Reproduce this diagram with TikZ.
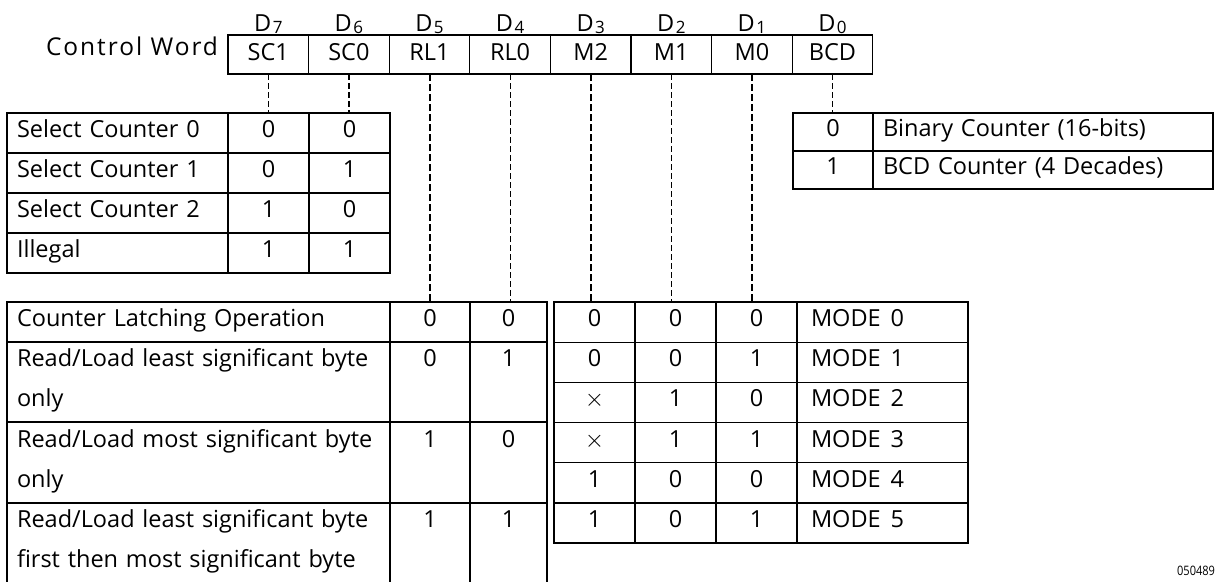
\documentclass[tikz,border=0pt]{standalone}
\usepackage{fontspec}
\usepackage{graphicx}
\setmainfont{Open Sans}
\newfontfamily\cwfont[LetterSpace=8]{Open Sans}
\begin{document}
\begin{tikzpicture}[x=1pt,y=-1pt,
  every node/.style={font=\fontsize{23.5}{40}\selectfont, inner sep=0pt, outer sep=0pt},
  grid/.style={draw, line width=1.3pt, minimum height=40pt},
  cw/.style={draw, line width=1.3pt, minimum width=80.6pt, minimum height=39pt, text height=16pt, text depth=5pt},
  txtone/.style={text height=16pt, text depth=7pt},
  txttwo/.style={text height=16pt, text depth=47pt},
  lcell/.style={align=left, inner xsep=10pt},
  rule/.style={line width=1.3pt},
  dhv/.style={line width=2pt, dash pattern=on 7pt off 3pt},
  dlt/.style={line width=1.2pt, dash pattern=on 6pt off 3pt},
  dlabel/.style={anchor=base}]
\useasboundingbox (0,0) rectangle (1217,581);

% Control word
\node[anchor=base east, font=\fontsize{24.5}{40}\cwfont] (cwl) at (218,55) {Control Word};
\node[cw] (cw1) at (268.3,54.5) {SC1};
\node[cw] (cw2) at (348.9,54.5) {SC0};
\node[cw] (cw3) at (429.5,54.5) {RL1};
\node[cw] (cw4) at (510.1,54.5) {RL0};
\node[cw] (cw5) at (590.7,54.5) {M2};
\node[cw] (cw6) at (671.3,54.5) {M1};
\node[cw] (cw7) at (751.9,54.5) {M0};
\node[cw] (cw8) at (832.5,54.5) {BCD};
\newcommand{\dsub}[1]{D\hspace{1.5pt}\raisebox{-2.5pt}{\fontsize{17}{17}\selectfont #1}}
\node[dlabel] (d7) at (268.3,31) {\dsub{7}};
\node[dlabel] (d6) at (348.9,31) {\dsub{6}};
\node[dlabel] (d5) at (429.5,31) {\dsub{5}};
\node[dlabel] (d4) at (510.1,31) {\dsub{4}};
\node[dlabel] (d3) at (590.7,31) {\dsub{3}};
\node[dlabel] (d2) at (671.3,31) {\dsub{2}};
\node[dlabel] (d1) at (751.9,31) {\dsub{1}};
\node[dlabel] (d0) at (832.5,31) {\dsub{0}};

% Select counter table
\node[grid, lcell, txtone, text width=201pt, minimum width=221pt] (s0) at (117.5,133) {Select Counter 0};
\node[grid, txtone, minimum width=81pt] (s0a) at (268.5,133) {0};
\node[grid, txtone, minimum width=81pt] (s0b) at (349.5,133) {0};
\node[grid, lcell, txtone, text width=201pt, minimum width=221pt] (s1) at (117.5,173) {Select Counter 1};
\node[grid, txtone, minimum width=81pt] (s1a) at (268.5,173) {0};
\node[grid, txtone, minimum width=81pt] (s1b) at (349.5,173) {1};
\node[grid, lcell, txtone, text width=201pt, minimum width=221pt] (s2) at (117.5,213) {Select Counter 2};
\node[grid, txtone, minimum width=81pt] (s2a) at (268.5,213) {1};
\node[grid, txtone, minimum width=81pt] (s2b) at (349.5,213) {0};
\node[grid, lcell, txtone, text width=201pt, minimum width=221pt] (s3) at (117.5,253) {Illegal};
\node[grid, txtone, minimum width=81pt] (s3a) at (268.5,253) {1};
\node[grid, txtone, minimum width=81pt] (s3b) at (349.5,253) {1};

% BCD table
\node[grid, txtone, minimum width=80pt, minimum height=38pt] (b0) at (833,132) {0};
\node[grid, lcell, txtone, text width=320pt, minimum width=340pt, minimum height=38pt] (b0t) at (1043,132) {Binary Counter (16-bits)};
\node[grid, txtone, minimum width=80pt, minimum height=38pt] (b1) at (833,170) {1};
\node[grid, lcell, txtone, text width=320pt, minimum width=340pt, minimum height=38pt] (b1t) at (1043,170) {BCD Counter (4 Decades)};

% Read/Load table
\node[grid, lcell, txtone, text width=363pt, minimum width=383pt] (r0) at (198.5,322) {Counter Latching Operation};
\node[grid, txtone, minimum width=80pt] (r0a) at (430,322) {0};
\node[grid, txtone, minimum width=77pt] (r0b) at (508.5,322) {0};
\node[grid, lcell, txttwo, text width=363pt, minimum width=383pt, minimum height=80pt] (r1) at (198.5,382) {Read/Load least significant byte\\only};
\node[grid, txttwo, minimum width=80pt, minimum height=80pt] (r1a) at (430,382) {0};
\node[grid, txttwo, minimum width=77pt, minimum height=80pt] (r1b) at (508.5,382) {1};
\node[grid, lcell, txttwo, text width=363pt, minimum width=383pt, minimum height=81pt] (r2) at (198.5,462.5) {Read/Load most significant byte\\only};
\node[grid, txttwo, minimum width=80pt, minimum height=81pt] (r2a) at (430,462.5) {1};
\node[grid, txttwo, minimum width=77pt, minimum height=81pt] (r2b) at (508.5,462.5) {0};
\node[lcell, txttwo, text width=363pt, minimum width=383pt, minimum height=80pt] (r3) at (198.5,543) {Read/Load least significant byte\\first then most significant byte};
\node[txttwo, minimum width=80pt, minimum height=80pt] (r3a) at (430,543) {1};
\node[txttwo, minimum width=77pt, minimum height=80pt] (r3b) at (508.5,543) {1};
\draw[rule] (r3.north west) -- (r3.south west)
            (r3a.north west) -- (r3a.south west)
            (r3a.north east) -- (r3a.south east)
            (r3b.north east) -- (r3b.south east);

% Mode table
\foreach \n/\y/\a/\b/\c in {0/322.1/0/0/0, 1/362.3/0/0/1, 2/402.4/{$\times$}/1/0, 3/442.6/{$\times$}/1/1, 4/482.8/1/0/0, 5/522.9/1/0/1}{
  \node[grid, txtone, minimum width=81pt, minimum height=40.17pt] (m\n a) at (594.5,\y) {\a};
  \node[grid, txtone, minimum width=81pt, minimum height=40.17pt] (m\n b) at (675.5,\y) {\b};
  \node[grid, txtone, minimum width=81pt, minimum height=40.17pt] (m\n c) at (756.5,\y) {\c};
  \node[grid, lcell, txtone, inner xsep=14pt, text width=143pt, minimum width=171pt, minimum height=40.17pt] (m\n d) at (882.5,\y) {MODE\hspace{10pt}\n};
}

% Dashed connectors
\draw[dlt] (cw1.south) -- (cw1.south |- s0a.north);
\draw[dlt] (cw2.south) -- (cw2.south |- s0b.north);
\draw[dhv] (cw3.south) -- (cw3.south |- r0a.north);
\draw[dlt] (cw4.south) -- (cw4.south |- r0b.north);
\draw[dhv] (cw5.south) -- (cw5.south |- m0a.north);
\draw[dlt] (cw6.south) -- (cw6.south |- m0b.north);
\draw[dhv] (cw7.south) -- (cw7.south |- m0c.north);
\draw[dlt] (cw8.south) -- (cw8.south |- b0.north);

% Figure code
\node[anchor=base east, font=\fontsize{13}{13}\selectfont] (code) at (1215,575) {\scalebox{0.85}[1]{050489}};
\end{tikzpicture}
\end{document}
